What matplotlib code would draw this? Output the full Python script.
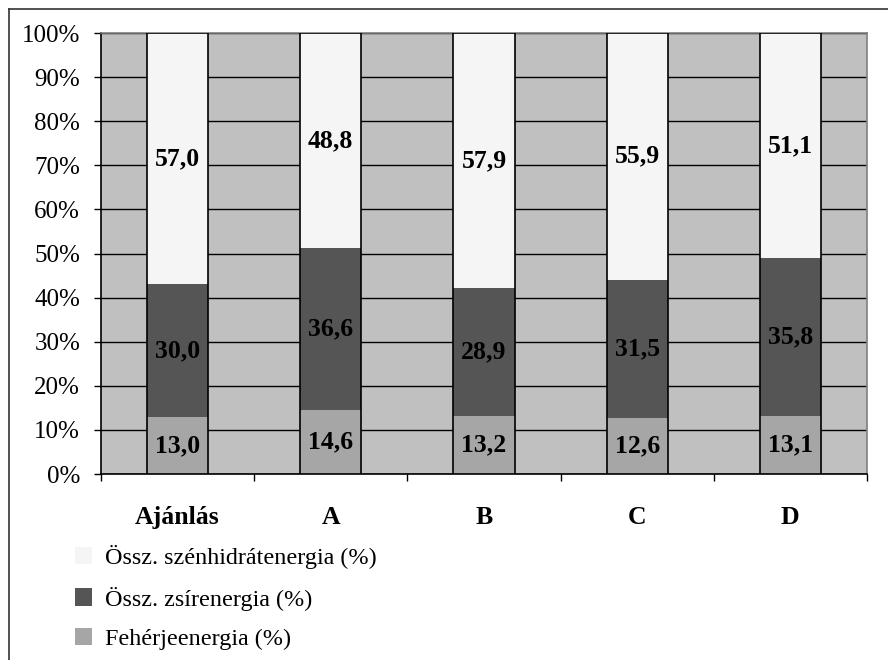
import matplotlib
matplotlib.use("Agg")
import matplotlib.pyplot as plt
from matplotlib.patches import Patch
from matplotlib.lines import Line2D
import numpy as np

categories = ["Ajánlás", "A", "B", "C", "D"]
feherje = [13.0, 14.6, 13.2, 12.6, 13.1]
zsir = [30.0, 36.6, 28.9, 31.5, 35.8]
szenhidrat = [57.0, 48.8, 57.9, 55.9, 51.1]

series_names = ["Össz. szénhidrátenergia (%)", "Össz. zsírenergia (%)", "Fehérjeenergia (%)"]
yticks = [0, 10, 20, 30, 40, 50, 60, 70, 80, 90, 100]

plt.rcParams["font.family"] = ["Liberation Serif", "DejaVu Serif"]

c_carb = "#F5F5F5"
c_fat = "#555555"
c_prot = "#A6A6A6"

fig = plt.figure(figsize=(8.88, 6.6), dpi=100)
ax = fig.add_axes([0.1137, 0.2818, 0.8626, 0.6682])
ax.set_facecolor("#C0C0C0")

x = np.arange(len(categories))
w = 0.4
prot = np.array(feherje)
fat = np.array(zsir)
carb = np.array(szenhidrat)

ax.bar(x, prot, w, color=c_prot, zorder=3)
ax.bar(x, fat, w, bottom=prot, color=c_fat, zorder=3)
ax.bar(x, carb, w, bottom=prot + fat, color=c_carb, zorder=3)
ax.bar(x, prot + fat + carb, w, fill=False, edgecolor="black", linewidth=1.2, zorder=4)

lab_kw = dict(ha="center", va="center", fontsize=18.5, fontweight="bold", zorder=5)
for i in range(len(categories)):
    ax.text(x[i], prot[i] / 2, f"{prot[i]:.1f}".replace(".", ","), **lab_kw)
    ax.text(x[i], prot[i] + fat[i] / 2, f"{fat[i]:.1f}".replace(".", ","), **lab_kw)
    ax.text(x[i], prot[i] + fat[i] + carb[i] / 2, f"{carb[i]:.1f}".replace(".", ","), **lab_kw)

ax.set_xlim(-0.5, len(categories) - 0.5)
ax.set_ylim(0, 100)
ax.set_yticks(yticks)
ax.set_yticklabels([f"{t}%" for t in yticks], fontsize=18)
ax.yaxis.grid(True, color="black", linewidth=1.0, zorder=1)
ax.set_axisbelow(True)
ax.tick_params(axis="y", direction="out", length=5, width=1, pad=10)

ax.set_xticks(x)
ax.set_xticklabels(categories, fontsize=18.5, fontweight="bold")
ax.tick_params(axis="x", which="major", length=0, pad=23)
ax.set_xticks(np.arange(-0.5, len(categories)), minor=True)
ax.tick_params(axis="x", which="minor", direction="out", length=5, width=1)

for s in ["left", "bottom"]:
    ax.spines[s].set_color("black")
    ax.spines[s].set_linewidth(1.2)
for s in ["top", "right"]:
    ax.spines[s].set_color("#808080")
    ax.spines[s].set_linewidth(1.2)

handles = [Patch(facecolor=c_carb, edgecolor="none"),
           Patch(facecolor=c_fat, edgecolor="none"),
           Patch(facecolor=c_prot, edgecolor="none")]
fig.legend(handles, series_names, loc="upper left", bbox_to_anchor=(0.084, 0.174),
           frameon=False, fontsize=17.4, handlelength=0.72, handleheight=0.72,
           handletextpad=0.55, labelspacing=0.72, borderpad=0, borderaxespad=0)

# outer frame (top and left edges)
fig.add_artist(Line2D([9 / 888, 1.0], [1 - 9 / 660, 1 - 9 / 660], transform=fig.transFigure,
                      color="#333333", linewidth=1.2))
fig.add_artist(Line2D([9 / 888, 9 / 888], [0.0, 1 - 9 / 660], transform=fig.transFigure,
                      color="#333333", linewidth=1.2))

fig.savefig("out.png", dpi=100)
